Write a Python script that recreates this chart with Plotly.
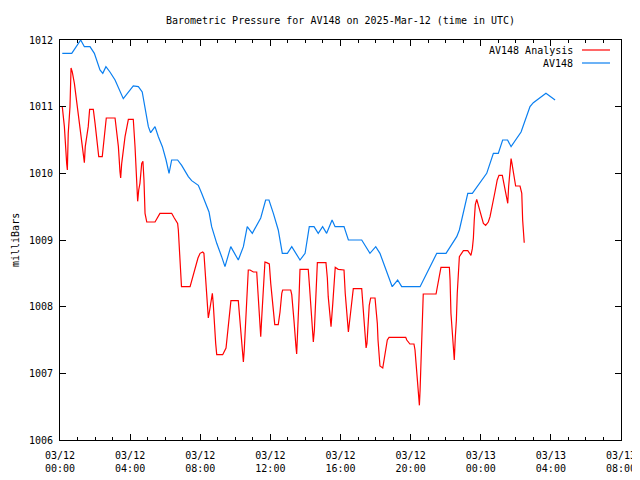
import pandas as pd
import plotly.graph_objects as go

# ---- data (hours after 2025-03-12 00:00 UTC, pressure in mb) ----
analysis_hours = [0.13, 0.25, 0.38, 0.42, 0.47, 0.57, 0.63, 0.70, 0.82, 0.97, 1.16, 1.31, 1.39, 1.44, 1.61, 1.69,
                  1.90, 2.00, 2.13, 2.21, 2.41, 2.51, 2.64, 3.14, 3.23, 3.33, 3.42, 3.46, 3.52, 3.71, 3.90, 4.18,
                  4.28, 4.34, 4.43, 4.49, 4.56, 4.66, 4.73, 4.79, 4.85, 4.95, 5.42, 5.70, 6.37, 6.52, 6.71, 6.75,
                  6.85, 6.93, 7.42, 7.87, 7.99, 8.14, 8.21, 8.27, 8.33, 8.40, 8.46, 8.52, 8.61, 8.69, 8.74, 8.80,
                  8.88, 8.94, 9.28, 9.47, 9.60, 9.70, 9.75, 10.17, 10.27, 10.36, 10.42, 10.46, 10.51, 10.59, 10.68,
                  10.74, 10.84, 11.03, 11.22, 11.31, 11.41, 11.45, 11.51, 11.60, 11.69, 11.79, 11.94, 12.02, 12.13,
                  12.21, 12.25, 12.45, 12.55, 12.65, 12.70, 13.16, 13.22, 13.35, 13.40, 13.46, 13.50, 13.56, 13.63,
                  13.69, 14.16, 14.22, 14.32, 14.39, 14.45, 14.51, 14.59, 14.68, 15.17, 15.25, 15.30, 15.40, 15.46,
                  15.56, 15.65, 15.70, 15.87, 16.20, 16.27, 16.35, 16.41, 16.45, 16.50, 16.64, 16.73, 17.21, 17.27,
                  17.34, 17.40, 17.46, 17.51, 17.59, 17.64, 17.72, 17.97, 18.03, 18.10, 18.14, 18.20, 18.25, 18.41,
                  18.48, 18.56, 18.67, 18.77, 19.72, 19.78, 19.87, 19.96, 20.19, 20.25, 20.31, 20.38, 20.44, 20.50,
                  20.54, 20.59, 20.65, 20.69, 20.72, 21.45, 21.52, 21.62, 21.73, 22.21, 22.25, 22.30, 22.38, 22.44,
                  22.49, 22.55, 22.61, 22.66, 22.72, 22.78, 23.01, 23.26, 23.39, 23.44, 23.52, 23.58, 23.63, 23.69,
                  23.77, 23.86, 24.05, 24.15, 24.28, 24.43, 24.53, 24.66, 24.81, 24.94, 25.04, 25.23, 25.34, 25.42,
                  25.48, 25.54, 25.59, 25.67, 25.73, 25.78, 25.90, 25.99, 26.24, 26.34, 26.39, 26.43, 26.48]
analysis_mb = [1011.00, 1010.70, 1010.15, 1010.05, 1010.60, 1011.00, 1011.58, 1011.52, 1011.35, 1011.05, 1010.70,
               1010.35, 1010.16, 1010.40, 1010.70, 1010.96, 1010.96, 1010.75, 1010.45, 1010.25, 1010.25, 1010.50,
               1010.83, 1010.83, 1010.65, 1010.40, 1010.03, 1009.93, 1010.15, 1010.55, 1010.81, 1010.81, 1010.40,
               1010.05, 1009.58, 1009.75, 1009.85, 1010.15, 1010.18, 1009.90, 1009.40, 1009.27, 1009.27, 1009.40,
               1009.40, 1009.33, 1009.25, 1009.15, 1008.70, 1008.30, 1008.30, 1008.73, 1008.80, 1008.82, 1008.80,
               1008.55, 1008.30, 1007.92, 1007.83, 1007.92, 1008.05, 1008.20, 1008.05, 1007.75, 1007.45, 1007.28,
               1007.28, 1007.38, 1007.70, 1008.00, 1008.09, 1008.09, 1007.77, 1007.47, 1007.30, 1007.17, 1007.35,
               1007.85, 1008.37, 1008.55, 1008.55, 1008.52, 1008.52, 1008.15, 1007.75, 1007.55, 1007.85, 1008.25,
               1008.67, 1008.66, 1008.64, 1008.35, 1008.02, 1007.80, 1007.73, 1007.73, 1007.92, 1008.20, 1008.25,
               1008.25, 1008.18, 1007.78, 1007.55, 1007.40, 1007.29, 1007.60, 1008.10, 1008.56, 1008.56, 1008.35,
               1007.92, 1007.60, 1007.47, 1007.65, 1008.10, 1008.66, 1008.66, 1008.43, 1008.15, 1007.80, 1007.70,
               1008.05, 1008.45, 1008.59, 1008.56, 1008.55, 1008.20, 1007.85, 1007.75, 1007.62, 1007.75, 1008.10,
               1008.27, 1008.27, 1008.05, 1007.85, 1007.65, 1007.38, 1007.45, 1007.75, 1008.02, 1008.13, 1008.13,
               1007.95, 1007.75, 1007.50, 1007.25, 1007.11, 1007.08, 1007.20, 1007.35, 1007.50, 1007.54, 1007.54,
               1007.50, 1007.47, 1007.44, 1007.44, 1007.35, 1007.15, 1006.85, 1006.65, 1006.52, 1006.75, 1007.20,
               1007.55, 1007.95, 1008.19, 1008.19, 1008.30, 1008.45, 1008.59, 1008.59, 1008.40, 1007.90, 1007.65,
               1007.40, 1007.20, 1007.55, 1007.80, 1008.20, 1008.55, 1008.75, 1008.84, 1008.84, 1008.79, 1008.77,
               1008.87, 1009.03, 1009.30, 1009.53, 1009.61, 1009.53, 1009.35, 1009.25, 1009.22, 1009.27, 1009.35,
               1009.55, 1009.72, 1009.90, 1009.97, 1009.97, 1009.82, 1009.70, 1009.58, 1009.55, 1009.80, 1010.10,
               1010.22, 1010.15, 1009.95, 1009.81, 1009.81, 1009.70, 1009.30, 1009.07, 1008.96]

station_hours = [0.13, 0.67, 1.18, 1.39, 1.71, 1.96, 2.28, 2.44, 2.62, 2.85, 3.14, 3.33, 3.61, 4.18, 4.47, 4.69,
                 4.85, 5.04, 5.17, 5.42, 5.61, 5.84, 6.05, 6.22, 6.37, 6.71, 6.94, 7.32, 7.51, 7.89, 8.08, 8.31,
                 8.50, 8.65, 8.94, 9.22, 9.41, 9.74, 10.17, 10.46, 10.68, 10.97, 11.45, 11.73, 11.92, 12.17, 12.45,
                 12.68, 12.97, 13.22, 13.69, 13.98, 14.22, 14.49, 14.73, 14.98, 15.21, 15.52, 15.69, 16.20, 16.45,
                 17.21, 17.68, 18.01, 18.25, 18.95, 19.26, 19.49, 20.54, 21.49, 22.02, 22.63, 22.78, 23.26, 23.52,
                 24.34, 24.72, 25.00, 25.25, 25.53, 25.73, 26.30, 26.81, 27.00, 27.72, 28.24]
station_mb = [1011.8, 1011.8, 1012.0, 1011.9, 1011.9, 1011.8, 1011.55, 1011.5, 1011.6, 1011.52, 1011.4, 1011.28,
              1011.12, 1011.31, 1011.3, 1011.22, 1010.95, 1010.7, 1010.61, 1010.7, 1010.55, 1010.4, 1010.2, 1010.0,
              1010.2, 1010.2, 1010.12, 1009.95, 1009.89, 1009.82, 1009.7, 1009.55, 1009.42, 1009.2, 1008.95,
              1008.75, 1008.6, 1008.9, 1008.7, 1008.9, 1009.2, 1009.1, 1009.33, 1009.6, 1009.6, 1009.4, 1009.15,
              1008.8, 1008.8, 1008.9, 1008.7, 1008.8, 1009.2, 1009.2, 1009.1, 1009.2, 1009.1, 1009.3, 1009.2,
              1009.2, 1009.0, 1009.0, 1008.8, 1008.9, 1008.8, 1008.3, 1008.4, 1008.3, 1008.3, 1008.8, 1008.8,
              1009.05, 1009.15, 1009.7, 1009.7, 1010.0, 1010.3, 1010.3, 1010.5, 1010.5, 1010.4, 1010.62, 1011.0,
              1011.06, 1011.2, 1011.1]

tick_hours = [0, 4, 8, 12, 16, 20, 24, 28, 32]
tick_labels = ["03/12<br>00:00", "03/12<br>04:00", "03/12<br>08:00", "03/12<br>12:00", "03/12<br>16:00",
               "03/12<br>20:00", "03/13<br>00:00", "03/13<br>04:00", "03/13<br>08:00"]
y_ticks = [1006, 1007, 1008, 1009, 1010, 1011, 1012]

series_names = ["AV148 Analysis", "AV148"]
series_colors = ["#ff0000", "#0a7ff0"]

base = pd.Timestamp("2025-03-12 00:00")


def to_time(hours):
    return [base + pd.Timedelta(hours=h) for h in hours]


FONT = "DejaVu Sans Mono"
# the page body adds an 8 px margin, so the figure is 8 px smaller and margins are reduced by 8
W, H = 632, 472
ML, MT, MR, MB = 52, 32, 19, 40
plot_w = W - ML - MR
plot_h = H - MT - MB

fig = go.Figure()
fig.add_trace(go.Scatter(x=to_time(analysis_hours), y=analysis_mb, mode="lines", name=series_names[0],
                         line=dict(color=series_colors[0], width=1.2), showlegend=False))
fig.add_trace(go.Scatter(x=to_time(station_hours), y=station_mb, mode="lines", name=series_names[1],
                         line=dict(color=series_colors[1], width=1.2), showlegend=False))

fig.update_layout(
    width=W, height=H,
    margin=dict(l=ML, r=MR, t=MT, b=MB, autoexpand=False),
    paper_bgcolor="white", plot_bgcolor="white",
    font=dict(family=FONT, size=10, color="black"),
    title=dict(text="Barometric Pressure for AV148 on 2025-Mar-12 (time in UTC)",
               x=0.5, xref="paper", xanchor="center", y=1 - 12 / H, yanchor="middle",
               font=dict(family=FONT, size=10, color="black")),
    xaxis=dict(
        type="date",
        automargin=False,
        range=[base, base + pd.Timedelta(hours=32)],
        tickmode="array",
        tickvals=to_time(tick_hours),
        ticktext=tick_labels,
        ticks="inside", ticklen=6, tickwidth=1, tickcolor="black",
        minor=dict(dtick=3600000, ticks="inside", ticklen=3, tickwidth=1, tickcolor="black", showgrid=False),
        showline=True, linecolor="black", linewidth=1, mirror="ticks",
        showgrid=False, zeroline=False,
        tickfont=dict(family=FONT, size=10, color="black"),
        ticklabelstandoff=6,
    ),
    yaxis=dict(
        range=[1006, 1012],
        automargin=False,
        tickmode="array", tickvals=y_ticks, ticktext=[str(v) for v in y_ticks],
        ticks="inside", ticklen=6, tickwidth=1, tickcolor="black",
        showline=True, linecolor="black", linewidth=1, mirror="ticks",
        showgrid=False, zeroline=False,
        tickfont=dict(family=FONT, size=10, color="black"),
        ticklabelstandoff=4,
    ),
)

# y-axis title
fig.add_annotation(text="milliBars", textangle=-90, xref="paper", yref="paper", x=0, y=0.5,
                   xanchor="center", yanchor="middle", xshift=-45, showarrow=False,
                   font=dict(family=FONT, size=10, color="black"))

# legend (text right-aligned, sample line to the right, as in the reference)
legend_rows = [10, 23]          # px below the plot top
for name, color, row in zip(series_names, series_colors, legend_rows):
    yp = 1 - row / plot_h
    fig.add_annotation(text=name, xref="paper", yref="paper", x=515 / plot_w, y=yp,
                       xanchor="right", yanchor="middle", showarrow=False,
                       font=dict(family=FONT, size=10, color="black"))
    fig.add_shape(type="line", xref="paper", yref="paper", x0=522 / plot_w, x1=550 / plot_w,
                  y0=yp, y1=yp, line=dict(color=color, width=1.2))

fig.write_html("out.html")
